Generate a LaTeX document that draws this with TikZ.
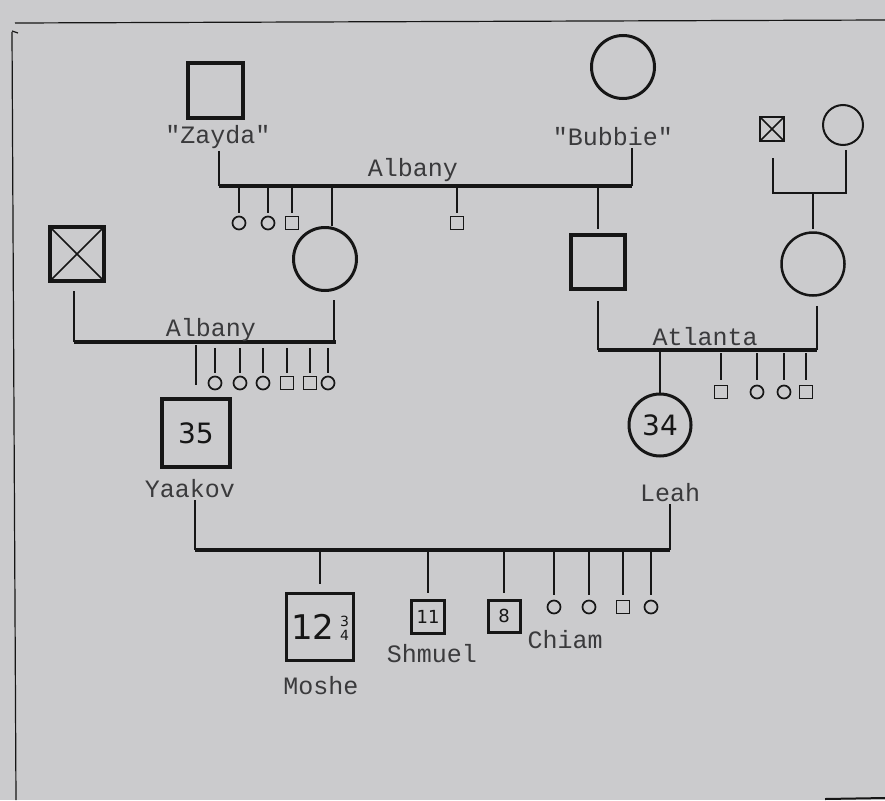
\documentclass[tikz,border=0pt]{standalone}
\usepackage{fontspec}
\newfontfamily\typewr{Liberation Mono}
\newfontfamily\handwr{DejaVu Sans}
\definecolor{paper}{RGB}{203,203,205}
\definecolor{ink}{RGB}{22,22,22}
\definecolor{typeink}{RGB}{58,58,60}
\begin{document}
\begin{tikzpicture}[x=1pt,y=-1pt,
        male/.style={draw=ink,rectangle,line width=3.5pt,minimum size=#1,inner sep=0pt},
        fem/.style={draw=ink,circle,line width=3pt,minimum size=#1,inner sep=0pt},
        kid/.style={draw=ink,shape=#1,line width=1.7pt,minimum size=13pt,inner sep=0pt},
        deceased/.style={path picture={\draw[ink,line width=1.6pt]
            (path picture bounding box.north west) -- (path picture bounding box.south east)
            (path picture bounding box.north east) -- (path picture bounding box.south west);}},
        wed/.style={draw=ink,line width=4pt},
        drop/.style={draw=ink,line width=1.8pt},
        lbl/.style={font=\typewr\fontsize{25}{26}\selectfont,text=typeink,inner sep=2pt},
        age/.style={font=\handwr\fontsize{28}{30}\selectfont,text=ink}]
    \fill[paper] (0,0) rectangle (885,800);
    \useasboundingbox (0,0) rectangle (885,800);
    % frame
    \draw[ink,line width=1.2pt] (15,23) -- (885,20);
    \draw[ink,line width=1.2pt] (12,32) -- (16,800);
    \draw[ink,line width=1.2pt] (12,31) -- (18,33);
    \draw[ink,line width=2pt] (825,799) -- (885,798);

    % grandparents, Yaakov's side
    \node[male=55pt,line width=4pt] (zayda) at (215,90) {};
    \node[lbl] (zaydaL) at (218,137) {"Zayda"};
    \node[fem=63pt] (bubbie) at (623,67) {};
    \node[lbl] (bubbieL) at (613,137) {"Bubbie"};
    \coordinate (top1) at (219,186);
    \coordinate (top2) at (632,186);
    \draw[drop] (zaydaL.south -| top1) -- (top1);
    \draw[drop] (bubbieL.south -| top2) -- (top2);
    \draw[wed] (top1) -- (top2);
    \node[lbl] (albany1) at (413,170) {Albany};
    \foreach \x/\s [count=\i] in {239/circle,268/circle,292/rectangle,457/rectangle}{
        \node[kid=\s] (sibA\i) at (\x,223) {};
        \draw[drop,shorten >=3pt] (sibA\i.north |- top1) -- (sibA\i.north);
    }
    \node[fem=63pt] (yMom) at (325,259) {};
    \draw[drop] ([xshift=7pt]yMom.north |- top1) -- ([xshift=7pt]yMom.north);
    \node[male=54pt] (bSon) at (598,262) {};
    \draw[drop,shorten >=4pt] (bSon.north |- top2) -- (bSon.north);

    % grandparents, Leah's side
    \node[male=24pt,line width=2pt,deceased] (gpa) at (772,129) {};
    \node[fem=40pt,line width=2pt] (gma) at (843,125) {};
    \coordinate (rt1) at (773,193);
    \coordinate (rt2) at (846,193);
    \draw[drop,shorten <=16pt,shorten >=4pt] (gpa.south -| rt1) -- (rt1) -- (rt2) -- (rt2 |- gma.south);
    \node[fem=63pt,line width=2.5pt] (lMom) at (813,264) {};
    \draw[drop,shorten >=2pt] (lMom.north |- rt1) -- (lMom.north);

    % Yaakov's parents
    \node[male=54pt,line width=4pt,deceased] (yDad) at (77,254) {};
    \coordinate (lf1) at (74,342);
    \coordinate (lf2) at (334,342);
    \draw[drop,shorten <=8pt] (yDad.south -| lf1) -- (lf1);
    \draw[drop,shorten <=8pt] (lf2 |- yMom.south) -- (lf2);
    \draw[wed] (lf1) -- ([xshift=2pt]lf2);
    \node[lbl] (albany2) at (211,330) {Albany};
    \node[male=68pt] (yaakov) at (196,433) {};
    \node[age] at (yaakov) {35};
    \node[lbl] (yaakovL) at (190,489) {Yaakov};
    \draw[drop,shorten <=3pt,shorten >=12pt] (yaakov.north |- lf1) -- (yaakov.north);
    \foreach \x/\s [count=\i] in {215/circle,240/circle,263/circle,287/rectangle,310/rectangle,328/circle}{
        \node[kid=\s] (sibB\i) at (\x,383) {};
        \draw[drop,shorten <=6pt,shorten >=3pt] (sibB\i.north |- lf1) -- (sibB\i.north);
    }

    % Leah's parents
    \coordinate (rg1) at (598,350);
    \coordinate (rg2) at (817,350);
    \draw[drop,shorten <=10pt] (bSon.south -| rg1) -- (rg1);
    \draw[drop,shorten <=9pt] (rg2 |- lMom.south) -- (rg2);
    \draw[wed] (rg1) -- (rg2);
    \node[lbl] (atlanta) at (705,337) {Atlanta};
    \node[fem=62pt] (leah) at (660,425) {};
    \node[age] at (leah) {34};
    \node[lbl] (leahL) at (670,493) {Leah};
    \draw[drop] (leah.north |- rg1) -- (leah.north);
    \foreach \x/\s [count=\i] in {721/rectangle,757/circle,784/circle,806/rectangle}{
        \node[kid=\s] (sibC\i) at (\x,392) {};
        \draw[drop,shorten <=3pt,shorten >=5pt] (sibC\i.north |- rg1) -- (sibC\i.north);
    }

    % Yaakov and Leah
    \coordinate (bt1) at (195,550);
    \coordinate (bt2) at (670,550);
    \draw[drop] (yaakovL.south -| bt1) -- (bt1);
    \draw[drop,line width=2.5pt] (leahL.south -| bt2) -- (bt2);
    \draw[wed] (bt1) -- (bt2);
    \node[male=67pt] (moshe) at (320,627) {};
    \node[age,font=\handwr\fontsize{34}{34}\selectfont] at (moshe)
        {12\,\raisebox{-1pt}{\fontsize{14}{14}\selectfont\shortstack{3\\4}}};
    \node[lbl] (mosheL) at (321,686) {Moshe};
    \draw[drop,shorten >=8pt] (moshe.north |- bt1) -- (moshe.north);
    \node[male=33pt,line width=3pt] (shmuel) at (428,617) {};
    \node[age,font=\handwr\fontsize{18}{18}\selectfont] at (shmuel) {11};
    \node[lbl] (shmuelL) at (432,654) {Shmuel};
    \draw[drop,shorten >=6pt] (shmuel.north |- bt1) -- (shmuel.north);
    \node[male=32pt,line width=3pt] (chiam) at (504,616) {};
    \node[age,font=\handwr\fontsize{18}{18}\selectfont] at (chiam) {8};
    \node[lbl] (chiamL) at (565,640) {Chiam};
    \draw[drop,shorten >=6pt] (chiam.north |- bt1) -- (chiam.north);
    \foreach \x/\s [count=\i] in {554/circle,589/circle,623/rectangle,651/circle}{
        \node[kid=\s] (sibD\i) at (\x,607) {};
        \draw[drop,shorten >=5pt] (sibD\i.north |- bt1) -- (sibD\i.north);
    }
\end{tikzpicture}
\end{document}
